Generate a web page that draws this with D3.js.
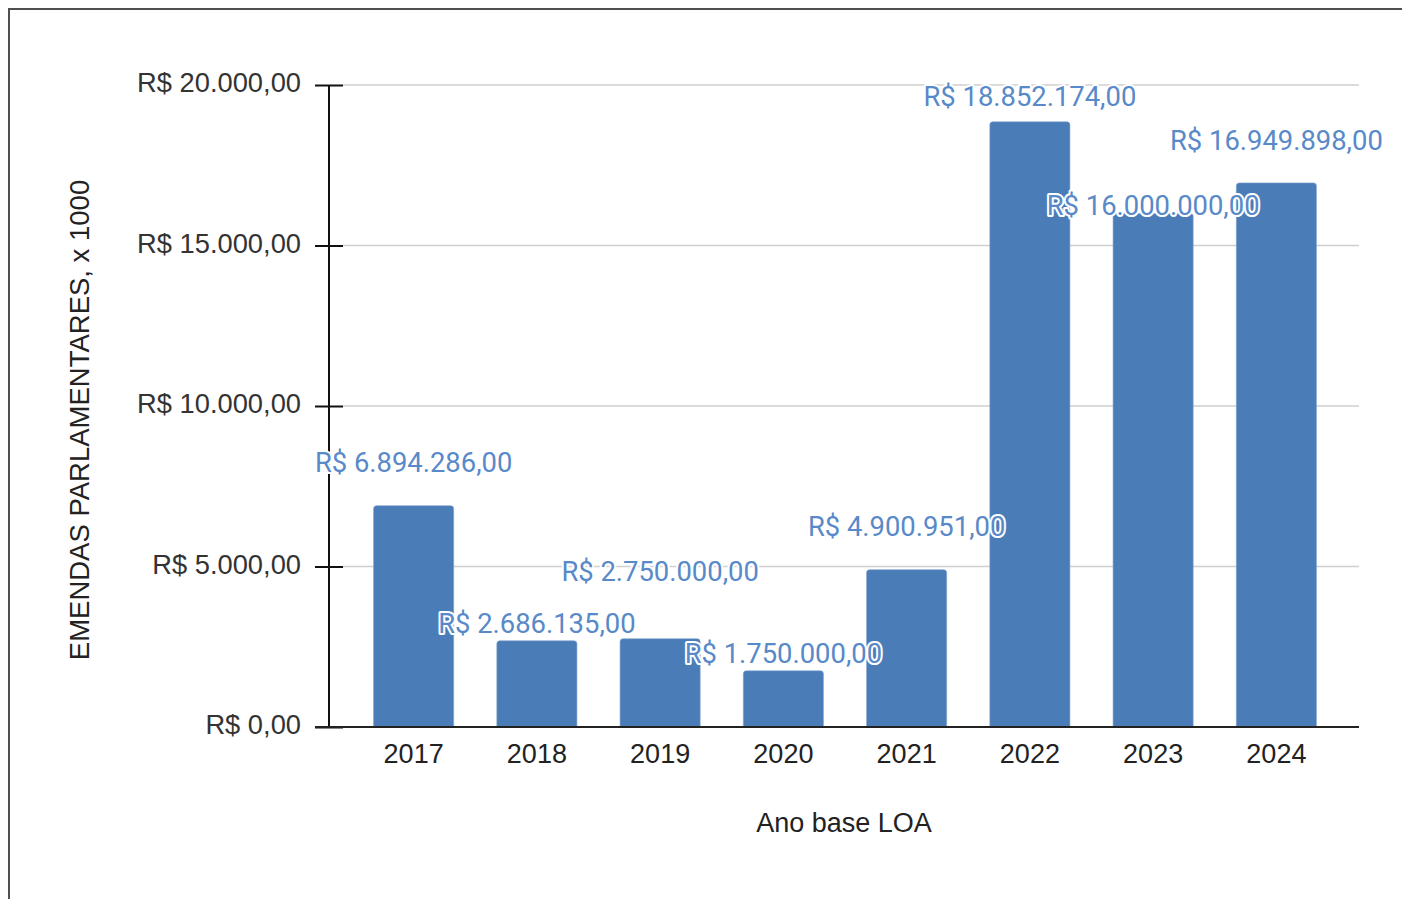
<!DOCTYPE html>
<html>
<head>
<meta charset="utf-8">
<script src="https://cdn.jsdelivr.net/npm/d3@7"></script>
<style>
  html, body { margin: 0; padding: 0; background: #fff; }
  svg { display: block; }
</style>
</head>
<body>
<div id="chart"></div>
<script>
// ---- data ----
const years = ["2017", "2018", "2019", "2020", "2021", "2022", "2023", "2024"];
const amounts = [6894286, 2686135, 2750000, 1750000, 4900951, 18852174, 16000000, 16949898]; // R$
const yTickValues = [0, 5000, 10000, 15000, 20000]; // R$ x 1000
const yTitle = "EMENDAS PARLAMENTARES, x 1000";
const xTitle = "Ano base LOA";

// ---- layout ----
const W = 1402, H = 899;
const plot = { left: 329, right: 1359, top: 85, bottom: 727 };
// label lift above bar top (px), emulating the original collision-avoidance placement
const labelLift = [44, 18, 68, 18, 44, 26, 8, 43];

const svg = d3.select("#chart").append("svg").attr("width", W).attr("height", H);

// frame
svg.append("path")
  .attr("d", `M9,${H} L9,9 L${W},9`)
  .attr("fill", "none").attr("stroke", "#505050").attr("stroke-width", 2);

const loc = d3.formatLocale({ decimal: ",", thousands: ".", grouping: [3], currency: ["R$ ", ""] });
const fmt = loc.format("$,.2f");

const x = d3.scaleBand().domain(years).range([352, 1338]).paddingInner(0.35).paddingOuter(0.175);
const y = d3.scaleLinear().domain([0, 20000]).range([plot.bottom, plot.top]);

// gridlines
svg.append("g").selectAll("line").data(yTickValues.filter(d => d > 0)).join("line")
  .attr("x1", 343).attr("x2", plot.right)
  .attr("y1", d => y(d)).attr("y2", d => y(d))
  .attr("stroke", "#cfcfcf").attr("stroke-width", 1.5);

// y axis
const yAxis = d3.axisLeft(y).tickValues(yTickValues).tickFormat(d => fmt(d)).tickSize(0).tickPadding(28);
const gy = svg.append("g").attr("transform", `translate(${plot.left},0)`).call(yAxis);
gy.select(".domain").remove();
gy.selectAll("text")
  .attr("font-family", "'Liberation Sans', Arial, sans-serif")
  .attr("font-size", 27.3).attr("fill", "#333").attr("dy", "0.25em");
gy.selectAll(".tick").append("line")
  .attr("x1", -14).attr("x2", 14).attr("stroke", "#111").attr("stroke-width", 2);

// bars
function topRounded(x0, y0, w, h, r) {
  r = Math.min(r, h, w / 2);
  return `M${x0},${y0 + h} L${x0},${y0 + r} Q${x0},${y0} ${x0 + r},${y0} L${x0 + w - r},${y0} Q${x0 + w},${y0} ${x0 + w},${y0 + r} L${x0 + w},${y0 + h} Z`;
}
const data = years.map((yr, i) => ({ year: yr, amount: amounts[i], v: amounts[i] / 1000, i }));
svg.append("g").selectAll("path").data(data).join("path")
  .attr("d", d => topRounded(x(d.year), y(d.v), x.bandwidth(), plot.bottom - y(d.v), 3))
  .attr("fill", "#4a7cb8")
  .attr("stroke", "#7fa3cf").attr("stroke-width", 0.6);

// vertical axis line
svg.append("line").attr("x1", plot.left).attr("x2", plot.left)
  .attr("y1", plot.top).attr("y2", plot.bottom)
  .attr("stroke", "#111").attr("stroke-width", 2);

// x axis
const xAxis = d3.axisBottom(x).tickSize(0).tickPadding(17);
const gx = svg.append("g").attr("transform", `translate(0,${plot.bottom})`).call(xAxis);
gx.select(".domain").remove();
gx.selectAll("text")
  .attr("font-family", "'Liberation Sans', Arial, sans-serif")
  .attr("font-size", 27).attr("fill", "#222");
svg.append("line").attr("x1", 315).attr("x2", plot.right)
  .attr("y1", plot.bottom).attr("y2", plot.bottom)
  .attr("stroke", "#222").attr("stroke-width", 2);

// data labels
svg.append("g").selectAll("text").data(data).join("text")
  .attr("x", d => x(d.year) + x.bandwidth() / 2)
  .attr("y", d => y(d.v) - labelLift[d.i])
  .attr("dy", "0.36em")
  .attr("text-anchor", "middle")
  .attr("font-family", "Roboto, 'Noto Sans', sans-serif")
  .attr("font-size", 27.4)
  .attr("fill", "#5889c8")
  .attr("stroke", "#fff").attr("stroke-width", 4).attr("stroke-linejoin", "round")
  .attr("paint-order", "stroke")
  .text(d => fmt(d.amount));

// titles
svg.append("text")
  .attr("x", 844).attr("y", 832)
  .attr("text-anchor", "middle")
  .attr("font-family", "'Liberation Sans', Arial, sans-serif")
  .attr("font-size", 27).attr("fill", "#222")
  .text(xTitle);

svg.append("text")
  .attr("transform", "translate(89,420) rotate(-90)")
  .attr("text-anchor", "middle")
  .attr("font-family", "'Liberation Sans', Arial, sans-serif")
  .attr("font-size", 27.5).attr("fill", "#222")
  .text(yTitle);
</script>
</body>
</html>
